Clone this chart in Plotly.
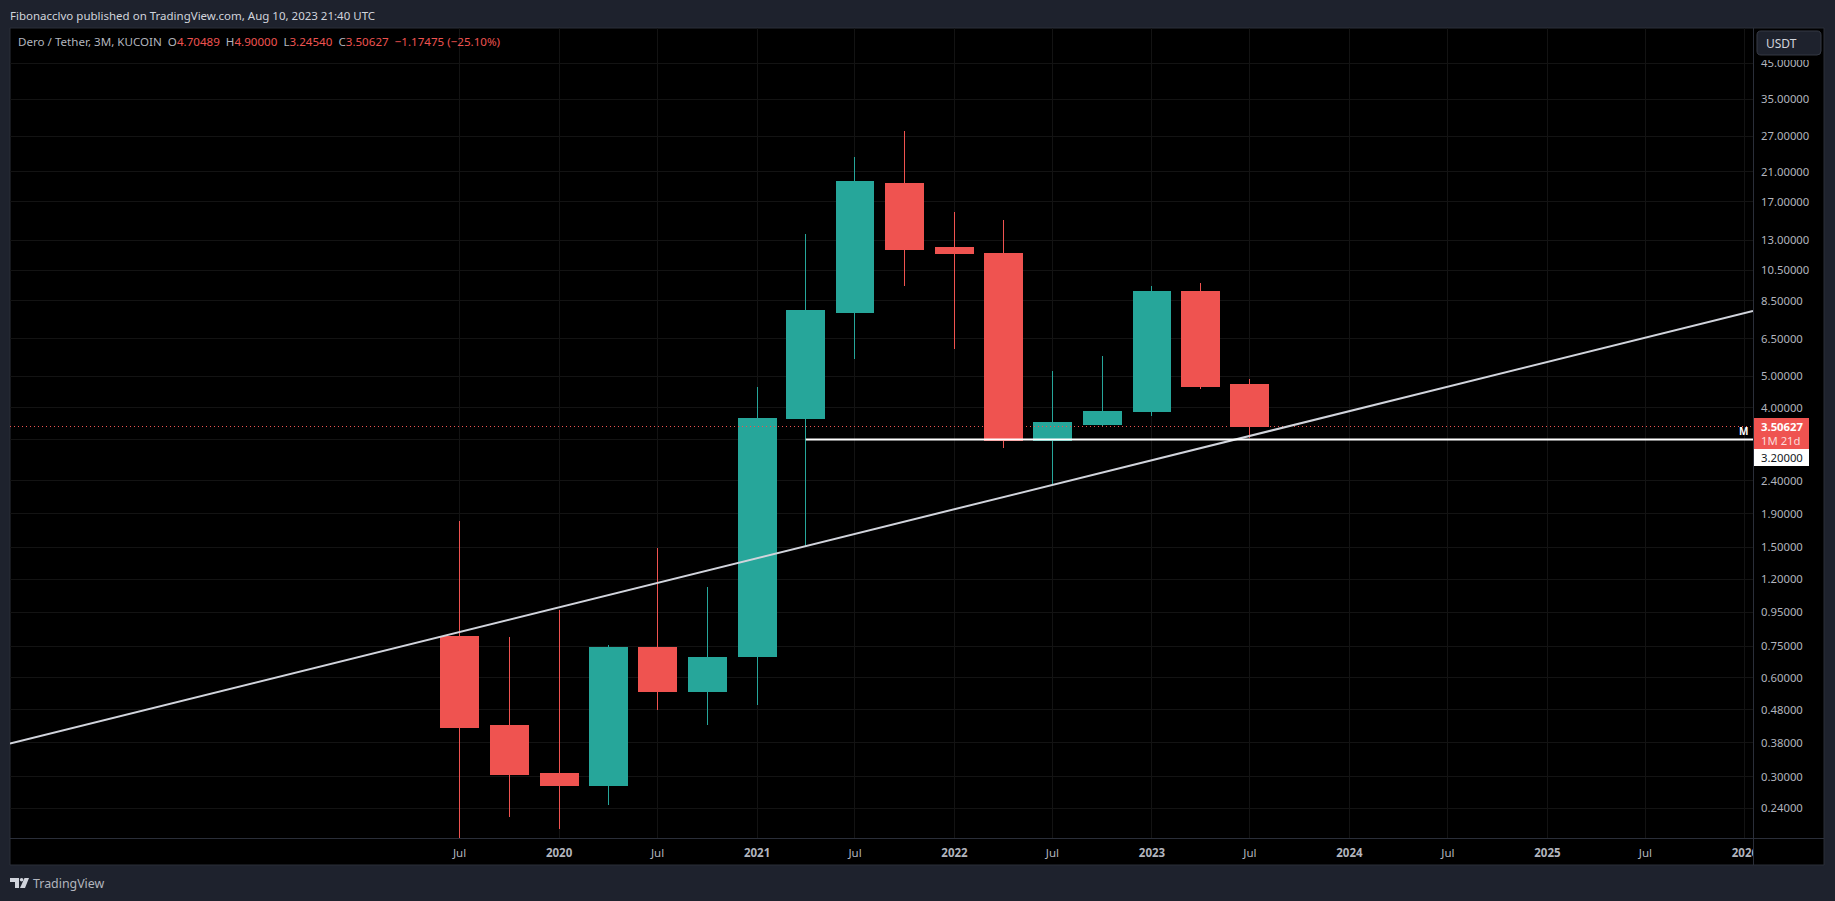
import plotly.graph_objs as go

# 3M candles
dates = ["2019-07-01", "2019-10-01", "2020-01-01", "2020-04-01", "2020-07-01", "2020-10-01",
         "2021-01-01", "2021-04-01", "2021-07-01", "2021-10-01", "2022-01-01", "2022-04-01",
         "2022-07-01", "2022-10-01", "2023-01-01", "2023-04-01", "2023-07-01"]
opens = [0.805, 0.428, 0.3075, 0.281, 0.745, 0.5434, 0.6996, 3.724, 7.84, 19.28, 12.38, 11.87,
         3.17, 3.57, 3.91, 9.03, 4.70489]
highs = [1.806, 0.80, 0.966, 0.756, 1.494, 1.136, 4.63, 13.57, 23.31, 27.97, 15.84, 14.97,
         5.18, 5.76, 9.41, 9.61, 4.90]
lows = [0.19, 0.225, 0.2075, 0.246, 0.479, 0.431, 0.496, 1.508, 5.64, 9.41, 6.05, 3.02,
        2.326, 3.52, 3.78, 4.57, 3.2454]
closes = [0.422, 0.305, 0.281, 0.745, 0.547, 0.690, 3.724, 7.90, 19.55, 12.21, 11.79, 3.17,
          3.62, 3.91, 9.09, 4.66, 3.50627]

y_ticks = [45, 35, 27, 21, 17, 13, 10.5, 8.5, 6.5, 5, 4, 3.2, 2.4, 1.9, 1.5, 1.2, 0.95, 0.75,
           0.6, 0.48, 0.38, 0.3, 0.24]
x_ticks = ["2019-07-01", "2020-01-01", "2020-07-01", "2021-01-01", "2021-07-01", "2022-01-01",
           "2022-07-01", "2023-01-01", "2023-07-01", "2024-01-01", "2024-07-01", "2025-01-01",
           "2025-07-01", "2026-01-01"]
x_labels = ["Jul", "<b>2020</b>", "Jul", "<b>2021</b>", "Jul", "<b>2022</b>", "Jul", "<b>2023</b>",
            "Jul", "<b>2024</b>", "Jul", "<b>2025</b>", "Jul", "<b>2026</b>"]

x_range = ["2017-03-22", "2026-01-16"]
trend_y = [0.378, 7.90]
support_x = ["2021-04-01", "2026-01-16"]
support_y = [3.2, 3.2]
last_close = 3.50627

W, H = 1835, 901
LEFT, RIGHT, TOP, BOTTOM = 10, 1753, 28, 838
BG = "#1e222d"
LINE = "#2a2e39"
RED = "#ef5350"
GREEN = "#26a69a"
FONT = "Noto Sans"


# shapes and page furniture are placed in screen pixels
def px(x):
    return (x - LEFT) / (RIGHT - LEFT)


def py(y):
    return (BOTTOM - y) / (BOTTOM - TOP)


def box(x0, y0, x1, y1, fill=None, line=None, layer="above"):
    return dict(type="rect", xref="paper", yref="paper", x0=px(x0), x1=px(x1), y0=py(y0), y1=py(y1),
                fillcolor=fill, line=dict(color=line, width=1 if line else 0), layer=layer)


def label(x, y, text, size=12, color="#d1d4dc", anchor="left"):
    return dict(xref="paper", yref="paper", x=px(x), y=py(y), text=text, showarrow=False,
                xanchor=anchor, yanchor="middle", font=dict(family=FONT, size=size, color=color),
                borderpad=0, borderwidth=0)


def logo_path(points):
    d = "M" + " L".join(f"{px(x):.5f},{py(y):.5f}" for x, y in points) + " Z"
    return dict(type="path", xref="paper", yref="paper", path=d, fillcolor="#d1d4dc",
                line=dict(width=0), layer="above")


def round_button(x0, y0, x1, y1, r):
    d = (f"M{px(x0 + r):.5f},{py(y0):.5f} L{px(x1 - r):.5f},{py(y0):.5f} "
         f"Q{px(x1):.5f},{py(y0):.5f} {px(x1):.5f},{py(y0 + r):.5f} "
         f"L{px(x1):.5f},{py(y1 - r):.5f} Q{px(x1):.5f},{py(y1):.5f} {px(x1 - r):.5f},{py(y1):.5f} "
         f"L{px(x0 + r):.5f},{py(y1):.5f} Q{px(x0):.5f},{py(y1):.5f} {px(x0):.5f},{py(y1 - r):.5f} "
         f"L{px(x0):.5f},{py(y0 + r):.5f} Q{px(x0):.5f},{py(y0):.5f} {px(x0 + r):.5f},{py(y0):.5f} Z")
    return dict(type="path", xref="paper", yref="paper", path=d, fillcolor=BG,
                line=dict(color="#363a45", width=1), layer="above")


fig = go.Figure()

fig.add_trace(go.Scatter(x=x_range, y=[last_close, last_close], mode="lines",
                         line=dict(color=RED, width=1, dash="1px,3px"), hoverinfo="skip"))
fig.add_trace(go.Scatter(x=x_range, y=trend_y, mode="lines",
                         line=dict(color="#d1d4dc", width=2), hoverinfo="skip"))
fig.add_trace(go.Scatter(x=support_x, y=support_y, mode="lines",
                         line=dict(color="#ffffff", width=2), hoverinfo="skip"))
fig.add_trace(go.Candlestick(x=dates, open=opens, high=highs, low=lows, close=closes,
                             whiskerwidth=0,
                             increasing=dict(line=dict(color=GREEN, width=1), fillcolor=GREEN),
                             decreasing=dict(line=dict(color=RED, width=1), fillcolor=RED)))

ohlc = ('<span style="color:#b2b5be">Dero / Tether, 3M, KUCOIN&nbsp;&nbsp;O</span>4.70489'
        '<span style="color:#b2b5be">&nbsp;&nbsp;H</span>4.90000'
        '<span style="color:#b2b5be">&nbsp;&nbsp;L</span>3.24540'
        '<span style="color:#b2b5be">&nbsp;&nbsp;C</span>3.50627'
        '&nbsp;&nbsp;−1.17475 (−25.10%)')

shapes = [
    box(LEFT, TOP, 1824, 865, fill="#000000", line=LINE, layer="below"),
    box(1754, 839, 1776, 864, fill="#000000"),
    box(1754, 29, 1823, 60, fill="#000000"),
    dict(type="line", xref="paper", yref="paper", x0=px(1753.5), x1=px(1753.5), y0=py(TOP), y1=py(865),
         line=dict(color=LINE, width=1), layer="above"),
    dict(type="line", xref="paper", yref="paper", x0=px(LEFT), x1=px(1824), y0=py(838.5), y1=py(838.5),
         line=dict(color=LINE, width=1), layer="above"),
    round_button(1757, 31, 1821, 55, 4),
    box(1754, 418, 1809, 449, fill=RED),
    box(1754, 449, 1809, 466, fill="#ffffff"),
    logo_path([(10, 878), (19, 878), (19, 888), (15, 888), (15, 882), (10, 882)]),
    logo_path([(29, 878), (25, 888), (20, 888), (24.5, 878)]),
    dict(type="circle", xref="paper", yref="paper", x0=px(19.8), x1=px(23.4), y0=py(878), y1=py(881.6),
         fillcolor="#d1d4dc", line=dict(width=0), layer="above"),
]

annotations = [
    label(10, 15, "Fibonacclvo published on TradingView.com, Aug 10, 2023 21:40 UTC", size=11.5),
    label(18, 41.5, ohlc, size=11.6, color=RED),
    label(33, 884, "TradingView", size=12.4, color="#b2b5be"),
    label(1766, 43.5, "USDT", size=12, color="#d1d4dc"),
    label(1761, 426.5, "<b>3.50627</b>", size=11.3, color="#ffffff"),
    label(1761, 440, "1M 21d", size=11.3, color="#fbdcdc"),
    label(1761, 457.5, "3.20000", size=11.3, color="#131722"),
    label(1743, 431, "<b>M</b>", size=10, color="#ffffff", anchor="center"),
]

fig.update_layout(
    width=W, height=H, autosize=False,
    margin=dict(l=LEFT, r=W - RIGHT, t=TOP, b=H - BOTTOM, pad=0),
    paper_bgcolor=BG, plot_bgcolor="#000000",
    showlegend=False, boxgap=0.22, boxgroupgap=0,
    shapes=shapes, annotations=annotations,
    font=dict(family=FONT, color="#b2b5be", size=11.3),
)
fig.update_xaxes(type="date", range=x_range, rangeslider_visible=False, tickmode="array",
                 tickvals=x_ticks, ticktext=x_labels, showgrid=True, gridcolor="#131313", gridwidth=1,
                 zeroline=False, showline=False, ticks="", ticklabelstandoff=6,
                 tickfont=dict(family=FONT, size=11.5, color="#b2b5be"))
fig.update_yaxes(type="log", range=[-0.7104, 1.7610], side="right", tickmode="array",
                 tickvals=y_ticks, ticktext=[f"{v:.5f}" for v in y_ticks], showgrid=True,
                 gridcolor="#131313", gridwidth=1, zeroline=False, showline=False, ticks="",
                 ticklabelstandoff=7, tickfont=dict(family=FONT, size=11.3, color="#b2b5be"))

# crisp wicks and dotted price line, the way the chart draws them
page_js = """
document.body.style.margin='0';document.body.style.overflow='hidden';
document.querySelectorAll('.boxes path').forEach(function(p){p.style.shapeRendering='crispEdges';});
var t=document.querySelectorAll('.scatterlayer .trace')[0];
if(t){t.querySelectorAll('path').forEach(function(p){p.style.shapeRendering='crispEdges';});}
"""
fig.write_html("out.html", config={"displayModeBar": False}, post_script=page_js)
